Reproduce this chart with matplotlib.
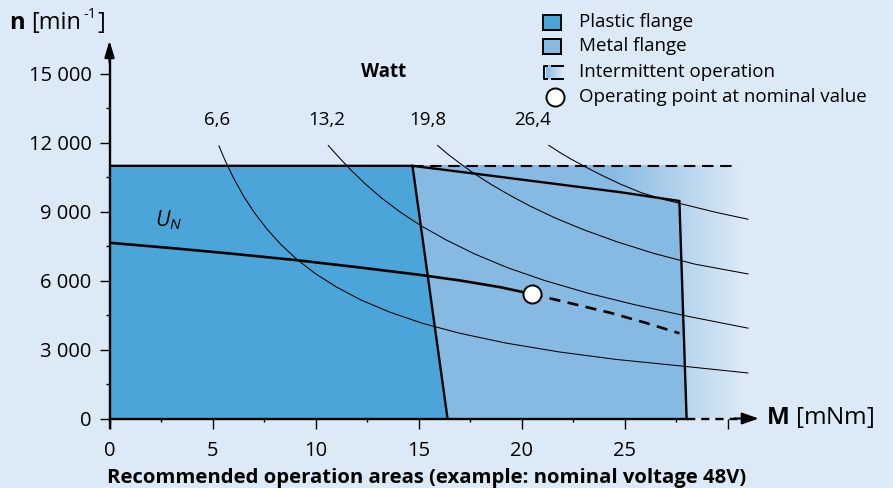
import numpy as np
import matplotlib
matplotlib.use('Agg')
import matplotlib.pyplot as plt
import matplotlib.patches as patches
from matplotlib.lines import Line2D

plt.rcParams['font.family'] = ['Open Sans', 'DejaVu Sans']
plt.rcParams['mathtext.fontset'] = 'custom'
plt.rcParams['mathtext.rm'] = 'Open Sans'
plt.rcParams['mathtext.it'] = 'Open Sans:italic'
plt.rcParams['mathtext.bf'] = 'Open Sans:bold'

# --- data ---
plastic_M = [0, 0, 14.7, 16.4]
plastic_n = [0, 11000, 11000, 0]

metal_M = [14.7, 17.9, 21.4, 24.8, 27.65, 28.0, 16.4]
metal_n = [11000, 10640, 10240, 9850, 9470, 0, 0]

un_M = [0, 3, 6, 9, 12, 15, 17, 19, 20.48]
un_n = [7650, 7420, 7170, 6900, 6590, 6260, 6010, 5710, 5421]
un_dash_M = [20.48, 22.4, 24.3, 26.0, 27.65]
un_dash_n = [5421, 5010, 4600, 4170, 3710]
nominal_M = 20.48
nominal_n = 5421

watt_labels = ['6,6', '13,2', '19,8', '26,4']
p66_M = [5.3, 5.6, 6.0, 6.5, 7.0, 7.6, 8.3, 9.1, 10.0, 11.0, 12.2, 13.6, 15.2, 17.0,
         19.2, 21.8, 24.6, 27.8, 31.0]
p66_n = [11890, 11250, 10500, 9690, 9000, 8290, 7590, 6920, 6300, 5730, 5160, 4630,
         4140, 3710, 3290, 2900, 2570, 2280, 1980]
p132_M = [10.6, 11.1, 11.7, 12.4, 13.2, 14.1, 15.1, 16.3, 17.7, 19.3, 21.1, 23.2, 25.5,
          28.0, 31.0]
p132_n = [11900, 11400, 10830, 10220, 9600, 8990, 8400, 7790, 7170, 6570, 6010, 5460,
          4950, 4460, 3930]
p198_M = [15.9, 16.4, 17.0, 17.7, 18.5, 19.4, 20.4, 21.6, 23.0, 24.6, 26.4, 28.4, 31.0]
p198_n = [11900, 11520, 11110, 10660, 10200, 9730, 9250, 8740, 8220, 7700, 7190, 6720,
          6290]
p264_M = [21.3, 21.8, 22.4, 23.1, 23.9, 24.8, 25.8, 26.9, 28.0, 29.4, 31.0]
p264_n = [11900, 11610, 11290, 10950, 10580, 10200, 9830, 9535, 9290, 8980, 8670]

limit_n = 11000
limit_M_end = 30.24

x_ticks = [0, 5, 10, 15, 20, 25, 30]
x_tick_labels = ['0', '5', '10', '15', '20', '25', '']
y_ticks = [0, 3000, 6000, 9000, 12000, 15000]
y_tick_labels = ['0', '3 000', '6 000', '9 000', '12 000', '15 000']

# --- colours ---
BG = '#DCE9F6'
PLASTIC = '#4BA5D8'
METAL = '#86BAE2'

W_PX, H_PX = 893, 488


def fx(x):
    return x / W_PX


def fy(y):
    return 1 - y / H_PX


fig = plt.figure(figsize=(W_PX / 100, H_PX / 100), dpi=100, facecolor=BG)
# axes placed so that M=0 -> x 109.5 px, n=0 -> y 418.5 px
ax = fig.add_axes([fx(109.5), fy(418.5), 651.3 / W_PX, 376.7 / H_PX])
ax.set_facecolor('none')
ax.set_xlim(0, 31.6)
ax.set_ylim(0, 16400)

# intermittent area: gradient fading out to the right
grad_M0, grad_M1 = 14.7, 30.7
cols = np.linspace(grad_M0, grad_M1, 300)
alpha = np.clip((grad_M1 - cols) / (grad_M1 - 24.3), 0, 1)
rgb = matplotlib.colors.to_rgb(METAL)
img = np.zeros((1, len(cols), 4))
img[..., :3] = rgb
img[..., 3] = alpha
ax.imshow(img, extent=[grad_M0, grad_M1, 0, limit_n], aspect='auto',
          interpolation='bilinear', zorder=1)

ax.fill(metal_M, metal_n, color=METAL, lw=0, zorder=2)
ax.fill(plastic_M, plastic_n, color=PLASTIC, lw=0, zorder=3)

# power hyperbolas
for m, n in [(p66_M, p66_n), (p132_M, p132_n), (p198_M, p198_n), (p264_M, p264_n)]:
    ax.plot(m, n, color='black', lw=0.75, zorder=4, solid_capstyle='butt')

# region borders
lw_b = 1.7
ax.plot(plastic_M[1:], plastic_n[1:], color='black', lw=lw_b, zorder=5, solid_joinstyle='miter')
ax.plot(metal_M[:6], metal_n[:6], color='black', lw=lw_b, zorder=5, solid_joinstyle='miter')
ax.plot([plastic_M[2], limit_M_end], [limit_n, limit_n], color='black', lw=1.5,
        linestyle=(0, (5.5, 3.2)), zorder=5)

# nominal voltage characteristic
ax.plot(un_M, un_n, color='black', lw=1.9, zorder=6)
ax.plot(un_dash_M, un_dash_n, color='black', lw=1.9, linestyle=(0, (4.2, 2.8)), zorder=6)
ax.plot([nominal_M], [nominal_n], 'o', ms=13, mfc='white', mec='black', mew=1.4, zorder=7)

# axes
for s in ['top', 'right']:
    ax.spines[s].set_visible(False)
ax.spines['left'].set_linewidth(1.7)
ax.spines['left'].set_bounds(-420, 15800)
ax.spines['bottom'].set_linewidth(1.7)
ax.spines['bottom'].set_bounds(0, 28)
ax.spines['left'].set_zorder(8)
ax.spines['bottom'].set_zorder(8)
ax.plot([28, 30.5], [0, 0], color='black', lw=1.7, linestyle=(0, (3.5, 2.5)),
        clip_on=False, zorder=8)
ax.annotate('', xy=(31.5, 0), xytext=(30.3, 0),
            arrowprops=dict(arrowstyle='-|>,head_length=1.0,head_width=0.35',
                            color='black', lw=1.5, shrinkA=0, shrinkB=0),
            annotation_clip=False, zorder=9)
ax.annotate('', xy=(0, 16450), xytext=(0, 15500),
            arrowprops=dict(arrowstyle='-|>,head_length=1.0,head_width=0.3',
                            color='black', lw=1.5, shrinkA=0, shrinkB=0),
            annotation_clip=False, zorder=9)

ax.set_xticks(x_ticks)
ax.set_xticklabels(x_tick_labels)
ax.set_xticks(np.arange(2.5, 30, 5), minor=True)
ax.set_yticks(y_ticks)
ax.set_yticklabels(y_tick_labels)
ax.set_yticks(np.arange(1500, 16000, 3000), minor=True)
ax.tick_params(axis='x', which='major', direction='out', length=7, width=1.0,
               labelsize=14.5, pad=9)
ax.tick_params(axis='x', which='minor', direction='out', length=2.5, width=1.0)
ax.tick_params(axis='y', which='major', direction='out', length=7, width=1.0,
               labelsize=14.5, pad=6)
ax.tick_params(axis='y', which='minor', direction='out', length=3, width=1.0)

# watt labels
ax.text(13.3, 15100, 'Watt', fontsize=13.5, fontweight='bold', ha='center', va='center')
for lab, m in zip(watt_labels, [5.2, 10.55, 15.45, 20.55]):
    ax.text(m, 13000, lab, fontsize=13.5, ha='center', va='center')
ax.text(2.85, 8650, r'$U_N$', fontsize=15.5, ha='center', va='center')

# axis titles
fig.text(fx(9), fy(29), 'n', fontsize=17, fontweight='bold', ha='left', va='baseline')
fig.text(fx(31), fy(29), '[min', fontsize=17, ha='left', va='baseline')
fig.text(fx(83), fy(18), '-1', fontsize=10.5, ha='left', va='baseline')
fig.text(fx(97), fy(29), ']', fontsize=17, ha='left', va='baseline')
fig.text(fx(766), fy(418), r'$\mathbf{M}$ [mNm]', fontsize=17.5, ha='left', va='center')
fig.text(fx(107), fy(478), 'Recommended operation areas (example: nominal voltage 48V)',
         fontsize=14.6, fontweight='bold', ha='left', va='center')

# legend
leg_x, leg_tx = 543, 579
rows = [22, 46, 72, 97]
leg_labels = ['Plastic flange', 'Metal flange', 'Intermittent operation',
              'Operating point at nominal value']
for y, c in zip(rows[:2], [PLASTIC, METAL]):
    fig.patches.append(patches.Rectangle((fx(leg_x), fy(y + 7.5)), 18 / W_PX, 15 / H_PX,
                                         facecolor=c, edgecolor='black', lw=1.4,
                                         transform=fig.transFigure))
y3 = rows[2]
gax = fig.add_axes([fx(546), fy(y3 + 7), 17 / W_PX, 14 / H_PX])
gimg = np.zeros((1, 50, 4))
gimg[..., :3] = rgb
gimg[..., 3] = np.linspace(1, 0, 50)
gax.imshow(gimg, aspect='auto', interpolation='bilinear')
gax.axis('off')
fig.add_artist(Line2D([fx(547), fx(544), fx(544), fx(547)],
                      [fy(y3 - 6.5), fy(y3 - 6.5), fy(y3 + 6.5), fy(y3 + 6.5)],
                      color='black', lw=1.4, transform=fig.transFigure))
for yy in [y3 - 6.5, y3 + 6.5]:
    fig.add_artist(Line2D([fx(552), fx(563)], [fy(yy), fy(yy)], color='black', lw=1.4,
                          transform=fig.transFigure))
fig.add_artist(Line2D([fx(555)], [fy(rows[3])], marker='o', ms=13, mfc='white',
                      mec='black', mew=1.4, transform=fig.transFigure))
for y, lab in zip(rows, leg_labels):
    fig.text(fx(leg_tx), fy(y), lab, fontsize=13.5, ha='left', va='center')

fig.savefig('out.png', dpi=100, facecolor=BG)
